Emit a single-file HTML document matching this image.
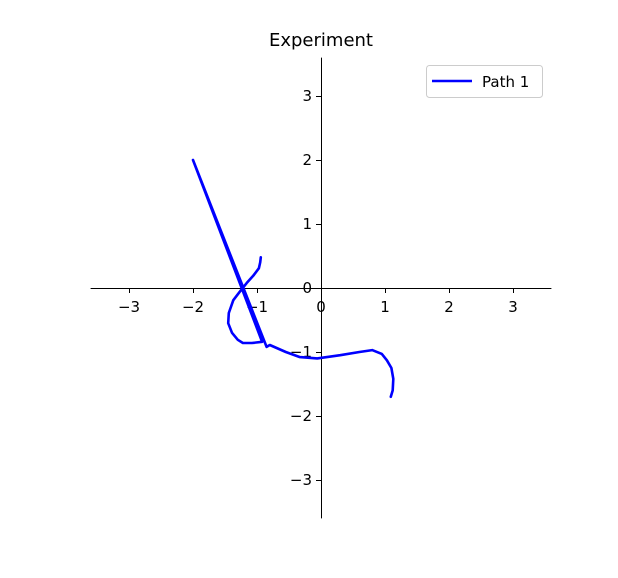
<!DOCTYPE html>
<html><head><meta charset="utf-8"><style>
body{margin:0;background:#fff}
svg text{font-family:"DejaVu Sans","Liberation Sans",sans-serif;fill:#000}
</style></head><body>
<svg id="chart" width="618" height="573">
<text x="321" y="46" font-size="18" text-anchor="middle">Experiment</text>
<g id="axes"></g>
<g id="ticks"></g>
<path id="series" fill="none" stroke="#0000ff" stroke-width="2.6" stroke-linejoin="round" stroke-linecap="round"/>
<g>
<rect x="426.5" y="65.5" width="116" height="32" rx="3" fill="#fff" stroke="#ccc"/>
<line x1="432" y1="81" x2="472" y2="81" stroke="#0000ff" stroke-width="2.6"/>
<text x="482" y="87" font-size="15">Path 1</text>
</g>
</svg>
<script>
const xs=[-0.94,-0.95,-0.97,-1.06,-1.16,-1.27,-1.37,-1.44,-1.45,-1.39,-1.30,-1.22,-1.08,-0.92,-2.0,-0.85,-0.80,-0.55,-0.33,-0.06,0.30,0.60,0.80,0.95,1.03,1.10,1.13,1.12,1.09];
const ys=[0.48,0.40,0.31,0.19,0.08,-0.06,-0.19,-0.39,-0.55,-0.70,-0.81,-0.86,-0.86,-0.84,2.0,-0.92,-0.89,-1.00,-1.08,-1.10,-1.05,-1.00,-0.97,-1.03,-1.13,-1.25,-1.42,-1.60,-1.70];
const ticks=[-3,-2,-1,0,1,2,3];
const tickLabels=["−3","−2","−1","0","1","2","3"];
const sx=v=>321+v*64, sy=v=>288-v*64;
const NS="http://www.w3.org/2000/svg";
function mk(t,a,p){const e=document.createElementNS(NS,t);for(const k in a)e.setAttribute(k,a[k]);p.appendChild(e);return e;}
const ax=document.getElementById('axes'), tk=document.getElementById('ticks');
const xa=mk('line',{x1:sx(-3.6),x2:sx(3.6),y1:sy(0)+0.5,y2:sy(0)+0.5,stroke:'#000','stroke-width':1},ax);


const ya=mk('line',{x1:sx(0)+0.5,x2:sx(0)+0.5,y1:sy(3.6),y2:sy(-3.6),stroke:'#000','stroke-width':1},ax);


ticks.forEach((t,i)=>{
  const a=mk('line',{x1:sx(t)+0.5,x2:sx(t)+0.5,y1:sy(0),y2:sy(0)+5,stroke:'#000'},tk);
  
  
  const b=mk('text',{x:sx(t),y:sy(0)+24,'font-size':15,'text-anchor':'middle'},tk);b.textContent=tickLabels[i];
  
  
  const c=mk('line',{x1:sx(0)-5,x2:sx(0),y1:sy(t)+0.5,y2:sy(t)+0.5,stroke:'#000'},tk);
  
  
  const d=mk('text',{x:sx(0)-9,y:sy(t)+5,'font-size':15,'text-anchor':'end'},tk);d.textContent=tickLabels[i];
  
  
});
document.getElementById('series').setAttribute('d',xs.map((x,i)=>(i?'L':'M')+sx(x).toFixed(1)+','+sy(ys[i]).toFixed(1)).join(''));
</script>
</body></html>
